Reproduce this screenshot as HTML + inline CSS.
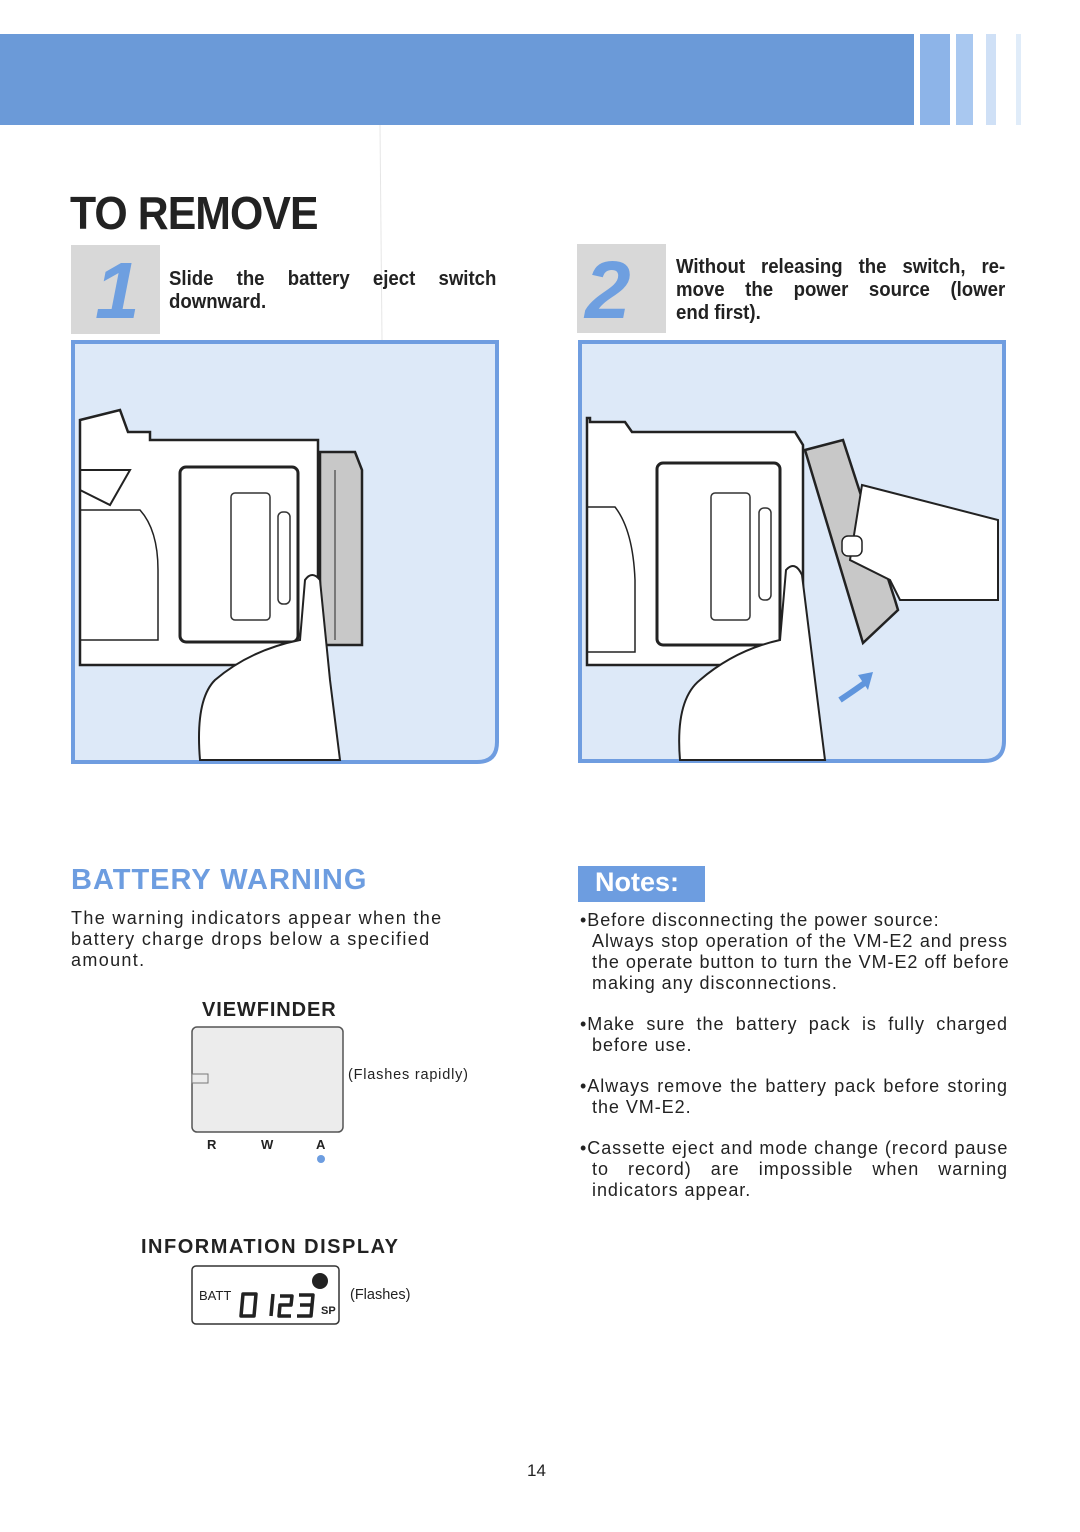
<!DOCTYPE html>
<html><head><meta charset="utf-8"><style>
body{margin:0;width:1080px;height:1532px;background:#fff;position:relative;overflow:hidden;font-family:"Liberation Sans",sans-serif;color:#222}
.a{position:absolute}
.stepT{font-weight:bold;font-size:20px;line-height:23px;transform:scaleX(0.93);transform-origin:left top}
.j{display:block;text-align:justify;text-align-last:justify;white-space:nowrap}
.l{display:block;white-space:nowrap}
.body{font-size:18px;line-height:21px;color:#222;letter-spacing:1.35px}
.note{font-size:18px;line-height:21px;letter-spacing:0.95px}
.note .j,.note .l{padding-left:12px}
.note .f{padding-left:0}
</style></head><body>
<svg class="a" style="left:0;top:0" width="1080" height="1532">
<rect x="0" y="34" width="914" height="91" fill="#6b9ad8"/>
<rect x="920" y="34" width="30" height="91" fill="#8db4e8"/>
<rect x="956" y="34" width="17" height="91" fill="#a9c8f0"/>
<rect x="986" y="34" width="10" height="91" fill="#cfe0f6"/>
<rect x="1016" y="34" width="5" height="91" fill="#e0ecf9"/>
<line x1="380" y1="125" x2="382" y2="340" stroke="#e6e6e6" stroke-width="1"/>
<rect x="71" y="245" width="89" height="89" fill="#d8d8d8"/>
<text x="95" y="318" font-family="Liberation Sans" font-style="italic" font-weight="bold" font-size="80" fill="#6e9fe0">1</text>
<rect x="577" y="244" width="89" height="89" fill="#d8d8d8"/>
<text x="585" y="318" font-family="Liberation Sans" font-style="italic" font-weight="bold" font-size="82" fill="#6e9fe0">2</text>
<path d="M73 342 H497 V742 Q497 762 477 762 H73 Z" fill="#dde9f8" stroke="#6f9de0" stroke-width="4"/>
<path d="M80 420 L120 410 L128 432 L150 432 L150 440 L318 440 L318 665 L80 665 Z" fill="#fff" stroke="#222" stroke-width="2.5"/>
<path d="M80 490 L110 505 L130 470 L80 470" fill="none" stroke="#222" stroke-width="2"/>
<path d="M80 510 L140 510 Q158 530 158 570 L158 640 L80 640" fill="none" stroke="#222" stroke-width="1.5"/>
<rect x="180" y="467" width="118" height="175" rx="6" fill="#fff" stroke="#222" stroke-width="3"/>
<rect x="231" y="493" width="39" height="127" rx="4" fill="#fff" stroke="#333" stroke-width="1.5"/>
<rect x="278" y="512" width="12" height="92" rx="5" fill="#fff" stroke="#333" stroke-width="1.5"/>
<path d="M320 452 L355 452 L362 470 L362 645 L320 645 Z" fill="#c8c8c8" stroke="#222" stroke-width="2.5"/>
<line x1="335" y1="470" x2="335" y2="640" stroke="#444" stroke-width="1.2"/>
<path d="M200 760 Q195 700 215 680 Q250 650 300 640 L305 580 Q312 570 320 580 L330 680 L340 760 Z" fill="#fff" stroke="#222" stroke-width="2"/>
<path d="M580 342 H1004 V741 Q1004 761 984 761 H580 Z" fill="#dde9f8" stroke="#6f9de0" stroke-width="4"/>
<path d="M587 418 L590 418 L590 422 L625 422 L632 432 L795 432 L803 445 L803 665 L587 665 Z" fill="#fff" stroke="#222" stroke-width="2.5"/>
<path d="M587 507 L615 507 Q633 530 635 580 L635 652 L587 652" fill="none" stroke="#222" stroke-width="1.5"/>
<rect x="657" y="463" width="123" height="182" rx="6" fill="#fff" stroke="#222" stroke-width="3"/>
<rect x="711" y="493" width="39" height="127" rx="4" fill="#fff" stroke="#333" stroke-width="1.5"/>
<rect x="759" y="508" width="12" height="92" rx="5" fill="#fff" stroke="#333" stroke-width="1.5"/>
<path d="M805 450 L843 440 L895 600 L898 610 L863 643 Z" fill="#c8c8c8" stroke="#222" stroke-width="2.5"/>
<path d="M862 485 L998 520 L998 600 L900 600 L890 580 L850 560 Z" fill="#fff" stroke="#222" stroke-width="2"/>
<rect x="842" y="536" width="20" height="20" rx="6" fill="#fff" stroke="#222" stroke-width="1.5"/>
<path d="M680 760 Q675 700 700 680 Q735 650 780 640 L786 570 Q795 560 802 575 L815 680 L825 760 Z" fill="#fff" stroke="#222" stroke-width="2"/>
<path d="M840 700 Q855 690 866 682" stroke="#5f95dd" stroke-width="6" fill="none"/>
<path d="M858 675 L873 672 L868 690 Z" fill="#5f95dd"/>
<rect x="578" y="866" width="127" height="36" fill="#6d9de0"/>
<rect x="192" y="1027" width="151" height="105" rx="5" fill="#ececec" stroke="#555" stroke-width="1.5"/>
<rect x="192" y="1074" width="16" height="9" fill="#ececec" stroke="#777"/>
<circle cx="321" cy="1159" r="4" fill="#6d9de0"/>
<rect x="192" y="1266" width="147" height="58" rx="4" fill="#fff" stroke="#333" stroke-width="1.5"/>
<circle cx="320" cy="1281" r="8" fill="#222"/>
<g fill="none" stroke="#222" stroke-width="3.5" stroke-linejoin="round">
<path d="M243 1294 H256 L254 1316 H241 Z"/>
<path d="M273 1294 L271 1316"/>
<path d="M280 1296 H292 L291 1305 H280 L279 1316 H291"/>
<path d="M299 1295 H313 L311 1316 H297 M300 1305 H312"/>
</g>
</svg>
<div class="a" style="left:70px;top:186px;font-weight:bold;font-size:46px;letter-spacing:-1px;transform:scaleX(0.93);transform-origin:left top;color:#222">TO REMOVE</div>
<div class="a stepT" style="left:169px;top:268px;width:352px"><span class="j">Slide the battery eject switch</span><span class="l">downward.</span></div>
<div class="a stepT" style="left:676px;top:256px;width:354px"><span class="j">Without releasing the switch, re-</span><span class="j">move the power source (lower</span><span class="l">end first).</span></div>
<div class="a" style="left:71px;top:864px;font-weight:bold;font-size:29px;color:#6d9de0;letter-spacing:1px">BATTERY WARNING</div>
<div class="a body" style="left:71px;top:908px;width:390px"><span class="l">The warning indicators appear when the</span><span class="l">battery charge drops below a specified</span><span class="l">amount.</span></div>
<div class="a" style="left:202px;top:999px;font-weight:bold;font-size:20px;letter-spacing:0.9px">VIEWFINDER</div>
<div class="a" style="left:348px;top:1067px;font-size:14.5px;letter-spacing:0.8px">(Flashes rapidly)</div>
<div class="a" style="left:207px;top:1137px;font-weight:bold;font-size:13px">R</div>
<div class="a" style="left:261px;top:1137px;font-weight:bold;font-size:13px">W</div>
<div class="a" style="left:316px;top:1137px;font-weight:bold;font-size:13px">A</div>
<div class="a" style="left:141px;top:1236px;font-weight:bold;font-size:20px;letter-spacing:1.5px">INFORMATION DISPLAY</div>
<div class="a" style="left:199px;top:1288px;font-size:13px">BATT</div>
<div class="a" style="left:321px;top:1305px;font-weight:bold;font-size:11px">SP</div>
<div class="a" style="left:350px;top:1287px;font-size:14.5px">(Flashes)</div>
<div class="a" style="left:595px;top:867px;font-weight:bold;font-size:27px;color:#fff">Notes:</div>
<div class="a note" style="left:580px;top:910px;width:428px"><span class="l f">•Before disconnecting the power source:</span><span class="j">Always stop operation of the VM-E2 and press</span><span class="j">the operate button to turn the VM-E2 off before</span><span class="l">making any disconnections.</span></div>
<div class="a note" style="left:580px;top:1014px;width:428px"><span class="j f">•Make sure the battery pack is fully charged</span><span class="l">before use.</span></div>
<div class="a note" style="left:580px;top:1076px;width:428px"><span class="j f">•Always remove the battery pack before storing</span><span class="l">the VM-E2.</span></div>
<div class="a note" style="left:580px;top:1138px;width:428px"><span class="j f">•Cassette eject and mode change (record pause</span><span class="j">to record) are impossible when warning</span><span class="l">indicators appear.</span></div>
<div class="a" style="left:527px;top:1461px;font-size:17px">14</div>
</body></html>
